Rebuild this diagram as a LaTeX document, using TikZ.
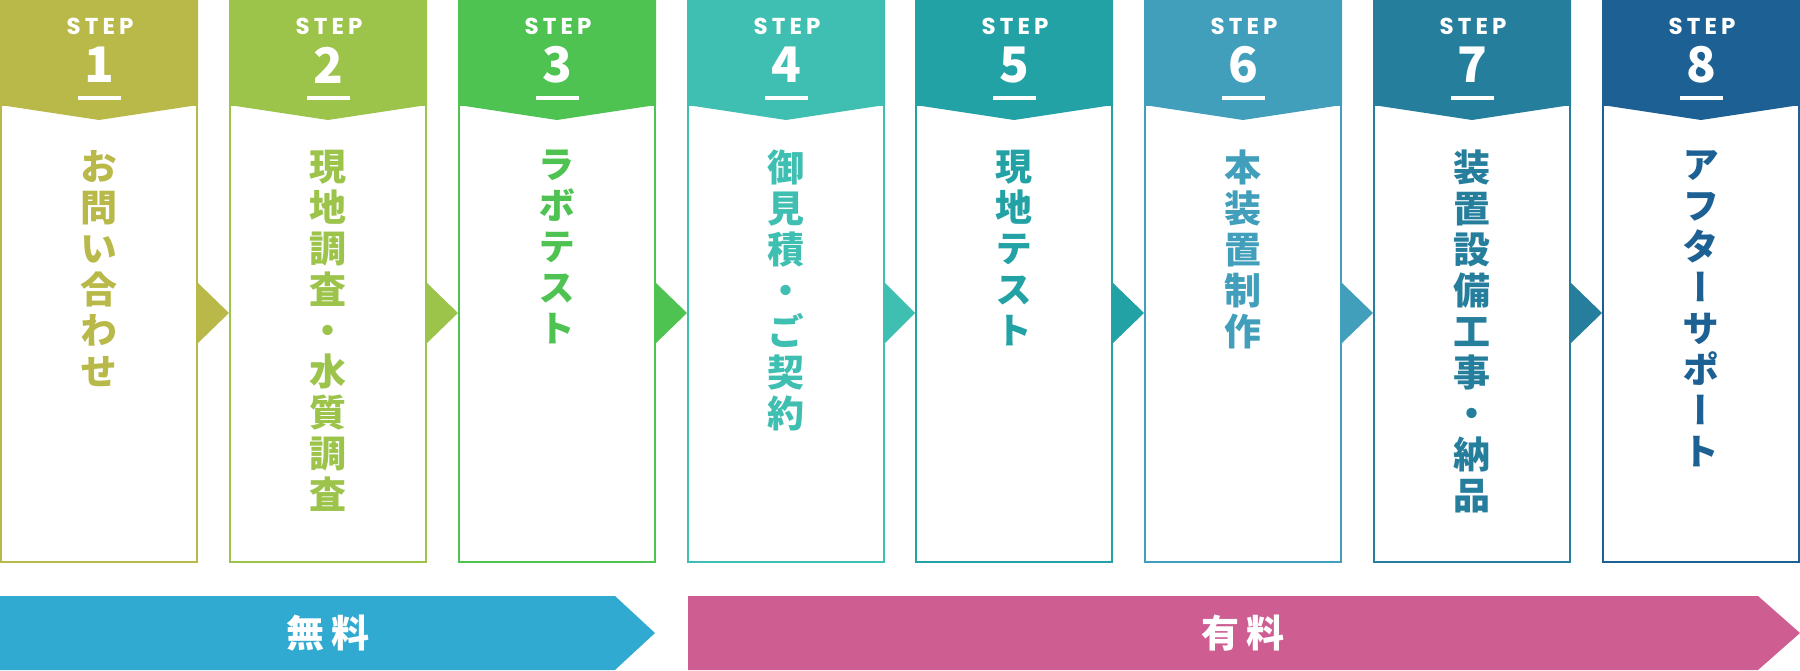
\documentclass[tikz,border=0pt]{standalone}
\usepackage{fontspec}
\newfontfamily\jpfont{Noto Sans CJK JP}
\newfontfamily\jpvfont{Noto Sans CJK JP}[RawFeature=+vert]
\newfontfamily\barfont{Noto Sans CJK JP}[LetterSpace=18]
\newfontfamily\stepfont{Poppins}[LetterSpace=18]
\usetikzlibrary{calc}
\definecolor{c1}{HTML}{B9B94A}
\definecolor{c2}{HTML}{9CC34A}
\definecolor{c3}{HTML}{4FC352}
\definecolor{c4}{HTML}{3FBFB1}
\definecolor{c5}{HTML}{22A2A5}
\definecolor{c6}{HTML}{419FBB}
\definecolor{c7}{HTML}{267E9D}
\definecolor{c8}{HTML}{1D6194}
\definecolor{freec}{HTML}{31AAD1}
\definecolor{paidc}{HTML}{CE5D92}

\begin{document}
\begin{tikzpicture}[x=1pt,y=-1pt,
    stepbox/.style={draw=#1,fill=white,line width=2pt,minimum width=196pt,minimum height=457pt,inner sep=0pt},
    steplabel/.style={text=white,inner sep=0pt,font=\stepfont\bfseries\fontsize{23}{23}\selectfont},
    stepnum/.style={text=white,inner sep=0pt,font=\jpfont\bfseries\fontsize{49}{49}\selectfont},
    steptext/.style={text=#1,anchor=north,align=center,inner sep=0pt,font=\jpvfont\bfseries\fontsize{37}{41}\selectfont},
    barlabel/.style={text=white,inner sep=0pt,font=\barfont\bfseries\fontsize{38}{38}\selectfont}]
  \useasboundingbox (0,0) rectangle (1800,670);
  % step 1
  \node[stepbox=c1] (b1) at (99,333.5) {};
  \fill[c1] (0,0) -- (198,0) -- (198,105) -- (99,120) -- (0,105) -- cycle;
  \node[steplabel] (s1) at (100,26) {STEP};
  \node[stepnum] (n1) at (99,65) {1};
  \draw[white,line width=4.5pt] (78,98) -- (121,98);
  \node[steptext=c1] (t1) at (99,150) {お\\問\\い\\合\\わ\\せ};
  % step 2
  \node[stepbox=c2] (b2) at (328,333.5) {};
  \fill[c2] (229,0) -- (427,0) -- (427,105) -- (328,120) -- (229,105) -- cycle;
  \node[steplabel] (s2) at (329,26) {STEP};
  \node[stepnum] (n2) at (328,65) {2};
  \draw[white,line width=4.5pt] (307,98) -- (350,98);
  \node[steptext=c2] (t2) at (328,150) {現\\地\\調\\査\\・\\水\\質\\調\\査};
  % step 3
  \node[stepbox=c3] (b3) at (557,333.5) {};
  \fill[c3] (458,0) -- (656,0) -- (656,105) -- (557,120) -- (458,105) -- cycle;
  \node[steplabel] (s3) at (558,26) {STEP};
  \node[stepnum] (n3) at (557,65) {3};
  \draw[white,line width=4.5pt] (536,98) -- (579,98);
  \node[steptext=c3] (t3) at (557,150) {ラ\\ボ\\テ\\ス\\ト};
  % step 4
  \node[stepbox=c4] (b4) at (786,333.5) {};
  \fill[c4] (687,0) -- (885,0) -- (885,105) -- (786,120) -- (687,105) -- cycle;
  \node[steplabel] (s4) at (787,26) {STEP};
  \node[stepnum] (n4) at (786,65) {4};
  \draw[white,line width=4.5pt] (765,98) -- (808,98);
  \node[steptext=c4] (t4) at (786,150) {御\\見\\積\\・\\ご\\契\\約};
  % step 5
  \node[stepbox=c5] (b5) at (1014,333.5) {};
  \fill[c5] (915,0) -- (1113,0) -- (1113,105) -- (1014,120) -- (915,105) -- cycle;
  \node[steplabel] (s5) at (1015,26) {STEP};
  \node[stepnum] (n5) at (1014,65) {5};
  \draw[white,line width=4.5pt] (993,98) -- (1036,98);
  \node[steptext=c5] (t5) at (1014,150) {現\\地\\テ\\ス\\ト};
  % step 6
  \node[stepbox=c6] (b6) at (1243,333.5) {};
  \fill[c6] (1144,0) -- (1342,0) -- (1342,105) -- (1243,120) -- (1144,105) -- cycle;
  \node[steplabel] (s6) at (1244,26) {STEP};
  \node[stepnum] (n6) at (1243,65) {6};
  \draw[white,line width=4.5pt] (1222,98) -- (1265,98);
  \node[steptext=c6] (t6) at (1243,150) {本\\装\\置\\制\\作};
  % step 7
  \node[stepbox=c7] (b7) at (1472,333.5) {};
  \fill[c7] (1373,0) -- (1571,0) -- (1571,105) -- (1472,120) -- (1373,105) -- cycle;
  \node[steplabel] (s7) at (1473,26) {STEP};
  \node[stepnum] (n7) at (1472,65) {7};
  \draw[white,line width=4.5pt] (1451,98) -- (1494,98);
  \node[steptext=c7] (t7) at (1472,150) {装\\置\\設\\備\\工\\事\\・\\納\\品};
  % step 8
  \node[stepbox=c8] (b8) at (1701,333.5) {};
  \fill[c8] (1602,0) -- (1800,0) -- (1800,105) -- (1701,120) -- (1602,105) -- cycle;
  \node[steplabel] (s8) at (1702,26) {STEP};
  \node[stepnum] (n8) at (1701,65) {8};
  \draw[white,line width=4.5pt] (1680,98) -- (1723,98);
  \node[steptext=c8] (t8) at (1701,150) {ア\\フ\\タ\\ー\\サ\\ポ\\ー\\ト};
  % arrows between steps
  \fill[c1] ([yshift=50.5pt]b1.east) -- ([yshift=20.5pt]b2.west) -- ([yshift=-9.5pt]b1.east) -- cycle;
  \fill[c2] ([yshift=50.5pt]b2.east) -- ([yshift=20.5pt]b3.west) -- ([yshift=-9.5pt]b2.east) -- cycle;
  \fill[c3] ([yshift=50.5pt]b3.east) -- ([yshift=20.5pt]b4.west) -- ([yshift=-9.5pt]b3.east) -- cycle;
  \fill[c4] ([yshift=50.5pt]b4.east) -- ([yshift=20.5pt]b5.west) -- ([yshift=-9.5pt]b4.east) -- cycle;
  \fill[c5] ([yshift=50.5pt]b5.east) -- ([yshift=20.5pt]b6.west) -- ([yshift=-9.5pt]b5.east) -- cycle;
  \fill[c6] ([yshift=50.5pt]b6.east) -- ([yshift=20.5pt]b7.west) -- ([yshift=-9.5pt]b6.east) -- cycle;
  \fill[c7] ([yshift=50.5pt]b7.east) -- ([yshift=20.5pt]b8.west) -- ([yshift=-9.5pt]b7.east) -- cycle;
  % free / paid bars
  \fill[freec] (0,596) -- (615,596) -- (655,633) -- (615,670) -- (0,670) -- cycle;
  \node[barlabel] (free) at (328,633) {無料};
  \fill[paidc] (688,596) -- (1758,596) -- (1800,633) -- (1758,670) -- (688,670) -- cycle;
  \node[barlabel] (paid) at (1243,633) {有料};
\end{tikzpicture}
\end{document}
